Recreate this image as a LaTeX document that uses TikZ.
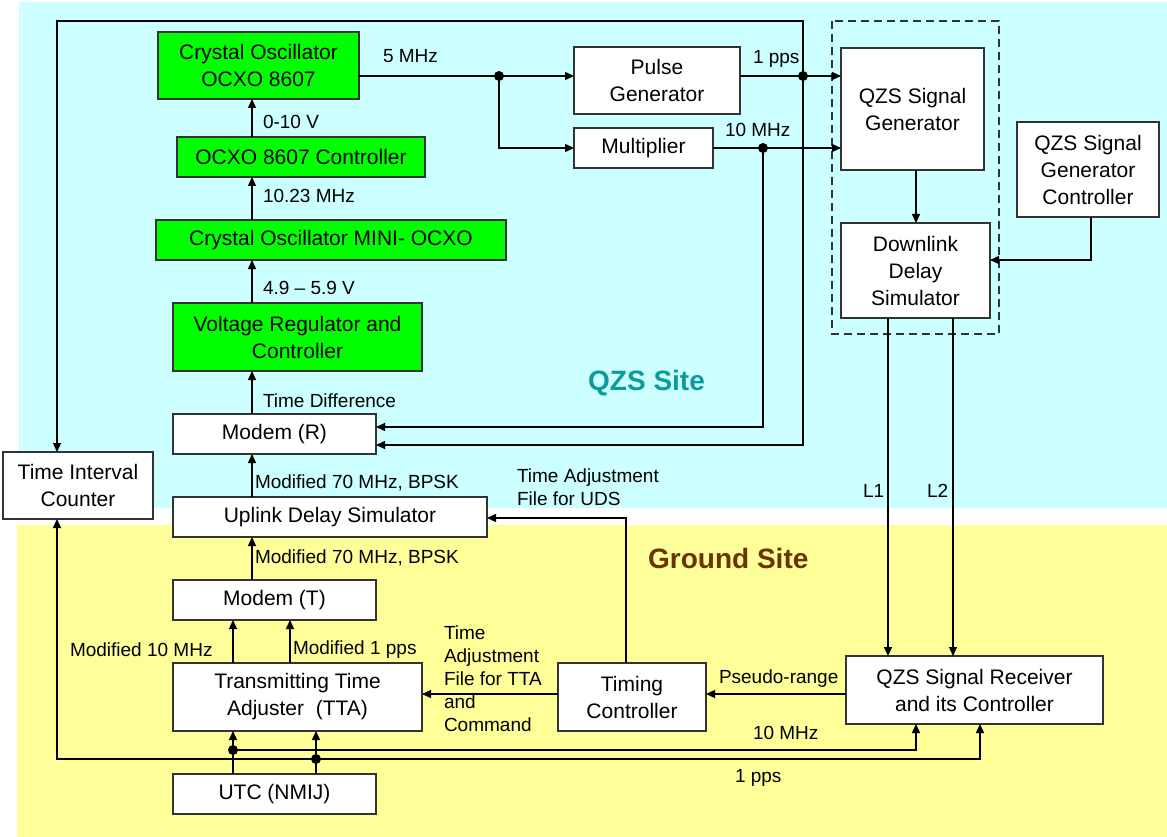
\documentclass[tikz,border=0pt]{standalone}
\usepackage{fontspec}
\setmainfont{Liberation Sans}
\usetikzlibrary{arrows.meta}
\definecolor{cyanbg}{HTML}{CCFFFF}
\definecolor{yellowbg}{HTML}{FFFF99}
\definecolor{boxgreen}{HTML}{00FF00}
\definecolor{qzsteal}{HTML}{0E9A9A}
\definecolor{groundbrown}{HTML}{6B3300}
\definecolor{edgegray}{HTML}{333333}
\tikzset{
 box/.style={draw=edgegray, line width=1.4pt, fill=white, inner sep=0pt, outer sep=0pt, align=center, font=\fontsize{21}{27}\selectfont},
 gbox/.style={box, fill=boxgreen},
 lbl/.style={anchor=base west, inner sep=0pt, outer sep=0pt, font=\fontsize{19}{23}\selectfont},
 mlbl/.style={anchor=north west, inner sep=0pt, outer sep=0pt, align=left, font=\fontsize{19}{23}\selectfont},
 conn/.style={line width=1.4pt, draw=black},
 arr/.style={conn, -{Triangle[length=9pt,width=8pt]}},
 jdot/.style={circle, fill=black, inner sep=0pt, minimum size=10pt},
 site/.style={anchor=base west, inner sep=0pt, font=\fontsize{28}{32}\selectfont\bfseries},
}
\begin{document}
\begin{tikzpicture}[x=1pt,y=-1pt]
\useasboundingbox (0,0) rectangle (1167,837);
% backgrounds
\fill[cyanbg] (19,2) rectangle (1167,508);
\fill[yellowbg] (17,525) rectangle (1167,837);
\draw[edgegray, line width=1.2pt, dash pattern=on 8pt off 5pt] (832,21) rectangle (999,334);
% site labels
\node[site, text=qzsteal] (qzssite) at (588,390) {QZS Site};
\node[site, text=groundbrown] (groundsite) at (648,568) {Ground Site};
% boxes
\node[gbox, minimum width=201, minimum height=67] (ocxo) at (258.5,65.5) {Crystal Oscillator\\OCXO 8607};
\node[gbox, minimum width=248, minimum height=40] (ocxoc) at (301,157) {OCXO 8607 Controller};
\node[gbox, minimum width=350, minimum height=40] (mini) at (331,240) {Crystal Oscillator MINI- OCXO};
\node[gbox, minimum width=249, minimum height=68] (vrc) at (297.5,337) {Voltage Regulator and\\Controller};
\node[box, minimum width=203, minimum height=40] (modemr) at (274.5,434) {Modem (R)};
\node[box, minimum width=150, minimum height=67] (tic) at (78,485.5) {Time Interval\\Counter};
\node[box, minimum width=314, minimum height=40] (uds) at (330,517) {Uplink Delay Simulator};
\node[box, minimum width=203, minimum height=40] (modemt) at (274.5,600) {Modem (T)};
\node[box, minimum width=249, minimum height=68] (tta) at (297.5,697) {Transmitting Time\\Adjuster~~(TTA)};
\node[box, minimum width=203, minimum height=40] (utc) at (274.5,794) {UTC (NMIJ)};
\node[box, minimum width=148, minimum height=68] (tc) at (632,697) {Timing\\Controller};
\node[box, minimum width=257, minimum height=68] (rx) at (974.5,690) {QZS Signal Receiver\\and its Controller};
\node[box, minimum width=166, minimum height=67] (pg) at (657,80.5) {Pulse\\Generator};
\node[box, minimum width=139, minimum height=40] (mult) at (643.5,148) {Multiplier};
\node[box, minimum width=143, minimum height=122] (qgen) at (912.5,109) {QZS Signal\\Generator};
\node[box, minimum width=149, minimum height=95] (dds) at (915.5,270.5) {Downlink\\Delay\\Simulator};
\node[box, minimum width=142, minimum height=95] (qgc) at (1088,169.5) {QZS Signal\\Generator\\Controller};
% helper coordinates
\coordinate (chain) at (252,0);
\coordinate (r5) at (0,76);
\coordinate (d5) at (499,76);
\coordinate (dpps) at (803,76);
\coordinate (d10) at (763,148);
\coordinate (topL) at (57,21);
\coordinate (topR) at (803,21);
\coordinate (mr1) at (0,427);
\coordinate (mr2) at (0,445);
\coordinate (qx) at (916,0);
\coordinate (ctl) at (1091,260);
\coordinate (lone) at (888,0);
\coordinate (ltwo) at (953,0);
\coordinate (pr) at (0,694);
\coordinate (tcx) at (626,518);
\coordinate (u10) at (233,750);
\coordinate (u1) at (316,759);
\coordinate (r10) at (916,750);
\coordinate (r1) at (980,759);
\coordinate (left1) at (57,759);
\coordinate (mt2) at (290,0);
% vertical chain
\draw[arr] (ocxoc.north -| chain) -- (ocxo.south -| chain);
\draw[arr] (mini.north -| chain) -- (ocxoc.south -| chain);
\draw[arr] (vrc.north -| chain) -- (mini.south -| chain);
\draw[arr] (modemr.north -| chain) -- (vrc.south -| chain);
\draw[arr] (uds.north -| chain) -- (modemr.south -| chain);
\draw[arr] (modemt.north -| chain) -- (uds.south -| chain);
\draw[arr] (tta.north -| u10) -- (modemt.south -| u10);
\draw[arr] (tta.north -| mt2) -- (modemt.south -| mt2);
\draw[arr] (utc.north -| u10) -- (tta.south -| u10);
\draw[arr] (utc.north -| u1) -- (tta.south -| u1);
% top signal paths
\draw[arr] (ocxo.east |- r5) -- (pg.west |- r5);
\draw[arr] (d5) |- (mult.west);
\draw[arr] (pg.east |- r5) -- (qgen.west |- r5);
\draw[arr] (mult.east) -- (qgen.west |- mult.east);
\draw[arr] (dpps) -- (topR) -- (topL) -- (tic.north -| topL);
\draw[arr] (dpps) -- (dpps |- mr2) -- (modemr.east |- mr2);
\draw[arr] (d10) -- (d10 |- mr1) -- (modemr.east |- mr1);
\draw[arr] (qgen.south -| qx) -- (dds.north -| qx);
\draw[arr] (qgc.south -| ctl) -- (ctl) -- (dds.east |- ctl);
\draw[arr] (dds.south -| lone) -- (rx.north -| lone);
\draw[arr] (dds.south -| ltwo) -- (rx.north -| ltwo);
% ground paths
\draw[arr] (rx.west |- pr) -- (tc.east |- pr);
\draw[arr] (tc.west |- pr) -- (tta.east |- pr);
\draw[arr] (tc.north -| tcx) -- (tcx) -- (uds.east |- tcx);
\draw[arr] (u10) -- (r10) -- (rx.south -| r10);
\draw[arr] (u1) -- (r1) -- (rx.south -| r1);
\draw[arr] (u1) -- (left1) -- (tic.south -| left1);
% junction dots
\node[jdot] (j5) at (d5) {};
\node[jdot] (jpps) at (dpps) {};
\node[jdot] (j10) at (d10) {};
\node[jdot] (ju10) at (u10) {};
\node[jdot] (ju1) at (u1) {};
% labels
\node[lbl] (t5mhz) at (383,63) {5 MHz};
\node[lbl] (t010) at (263,129) {0-10 V};
\node[lbl] (t1023) at (263,203) {10.23 MHz};
\node[lbl] (t49) at (263,294) {4.9 -- 5.9 V};
\node[lbl] (ttd) at (263,407) {Time Difference};
\node[lbl] (tm70a) at (255,488) {Modified 70 MHz, BPSK};
\node[lbl] (tm70b) at (255,563) {Modified 70 MHz, BPSK};
\node[lbl] (tm10) at (70,656) {Modified 10 MHz};
\node[lbl] (tm1) at (293,654) {Modified 1 pps};
\node[lbl] (t1pps) at (753,64) {1 pps};
\node[lbl] (t10mhz) at (725,137) {10 MHz};
\node[mlbl] (tuds) at (517,469) {Time Adjustment\\File for UDS};
\node[mlbl] (ttta) at (444,626) {Time\\Adjustment\\File for TTA\\and\\Command};
\node[lbl] (tpr) at (719,683) {Pseudo-range};
\node[lbl] (tb10) at (753,739) {10 MHz};
\node[lbl] (tb1) at (735,782) {1 pps};
\node[lbl] (tl1) at (863,497) {L1};
\node[lbl] (tl2) at (927,497) {L2};
\end{tikzpicture}
\end{document}
